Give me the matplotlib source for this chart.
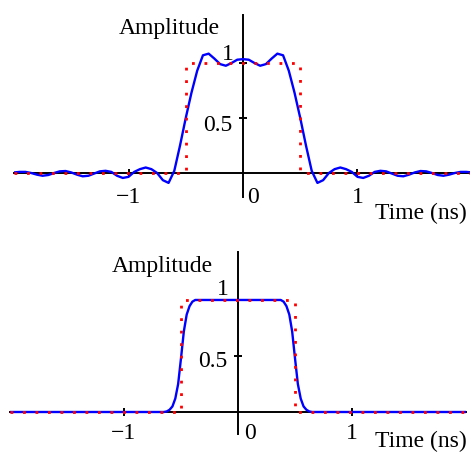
import numpy as np
import matplotlib
matplotlib.use("Agg")
import matplotlib.pyplot as plt
matplotlib.rcParams['font.family'] = ['Liberation Serif', 'DejaVu Serif']
matplotlib.rcParams['font.size'] = 17

# top panel: truncated pulse (ringing), sampled every 0.05 ns
t_top = np.round(np.arange(-2.0, 2.0001, 0.05), 3)
amp_top = [0.005, 0.01, 0.01, 0.0, -0.015, -0.025, -0.018, 0.0, 0.015, 0.018,
           0.005, -0.015, -0.03, -0.025, -0.005, 0.015, 0.02, 0.01, -0.025, -0.045,
           -0.035, 0.01, 0.035, 0.05, 0.035, 0.0, -0.065, -0.09, 0.02, 0.25,
           0.50, 0.73, 0.93, 1.07, 1.085, 1.04, 0.99, 0.975, 1.00, 1.03,
           1.035,
           1.03, 1.00, 0.975, 0.99, 1.04, 1.085, 1.07, 0.93, 0.73, 0.50,
           0.25, 0.02, -0.09, -0.065, 0.0, 0.035, 0.05, 0.035, 0.01, -0.035,
           -0.045, -0.025, 0.01, 0.02, 0.015, -0.005, -0.025, -0.03, -0.015, 0.005,
           0.018, 0.015, 0.0, -0.018, -0.025, -0.015, 0.0, 0.01, 0.01, 0.005]

# bottom panel: smoothed pulse
t_bot = [-2.0, -0.65, -0.625, -0.6, -0.575, -0.55, -0.525, -0.5, -0.475, -0.45,
         -0.425, -0.4, -0.375, 0.375, 0.4, 0.425, 0.45, 0.475, 0.5, 0.525,
         0.55, 0.575, 0.6, 0.625, 0.65, 2.0]
amp_bot = [0.0, 0.0, 0.005, 0.02, 0.05, 0.12, 0.25, 0.48, 0.72, 0.87,
           0.945, 0.985, 1.0, 1.0, 0.985, 0.945, 0.87, 0.72, 0.48, 0.25,
           0.12, 0.05, 0.02, 0.005, 0.0, 0.0]

# ideal rectangular pulse
t_rect = [-2.0, -0.5, -0.5, 0.5, 0.5, 2.0]
amp_rect = [0, 0, 1, 1, 0, 0]

W, H = 470, 454
fig = plt.figure(figsize=(W/100, H/100), dpi=100)

def make_axes(left, bottom_px, top_px, width, ylim):
    ax = fig.add_axes([left/W, (H-bottom_px)/H, width/W, (bottom_px-top_px)/H])
    ax.set_xlim(-2, 2)
    ax.set_ylim(*ylim)
    for s in ['top', 'right']:
        ax.spines[s].set_visible(False)
    for s in ['left', 'bottom']:
        ax.spines[s].set_position(('data', 0))
        ax.spines[s].set_linewidth(1.4)
        ax.spines[s].set_zorder(1)
    ax.set_xticks([-1, 1])
    ax.set_yticks([0.5, 1])
    ax.tick_params(direction='inout', length=6, width=1.4, labelbottom=False, labelleft=False)
    ax.patch.set_visible(False)
    return ax

ax1 = make_axes(14, 197.2, 14.6, 458, (-0.22, 1.44))
ax2 = make_axes(10, 434.4, 251.8, 456, (-0.2, 1.43))

ax1.plot(t_top, amp_top, color='#0000ff', lw=1.7, zorder=3)
ax2.plot(t_bot, amp_bot, color='#0000ff', lw=1.7, zorder=3)
for ax in (ax1, ax2):
    ax.plot(t_rect, amp_rect, color='#ff0000', lw=2, ls=(0, (1, 3.5)), zorder=4)

def labels(ax, amp_xy, one_y, half_y, tick_y, zero_x, time_xy):
    kw = dict(clip_on=False, va='baseline')
    ax.text(amp_xy[0], amp_xy[1], 'Amplitude', ha='center', **kw)
    ax.text(-0.08, one_y, '1', ha='right', **kw)
    ax.text(-0.09, half_y, '0.5', ha='right', **kw)
    ax.text(-1, tick_y, '\u22121', ha='center', **kw)
    ax.text(zero_x, tick_y, '0', ha='center', **kw)
    ax.text(1, tick_y, '1', ha='center', **kw)
    ax.text(time_xy[0], time_xy[1], 'Time (ns)', ha='right', **kw)

labels(ax1, (-0.64, 1.26), 1.03, 0.38, -0.27, 0.09, (1.95, -0.42))
labels(ax2, (-0.66, 1.25), 1.045, 0.40, -0.245, 0.105, (2.01, -0.31))

fig.savefig('out.png', dpi=100)
